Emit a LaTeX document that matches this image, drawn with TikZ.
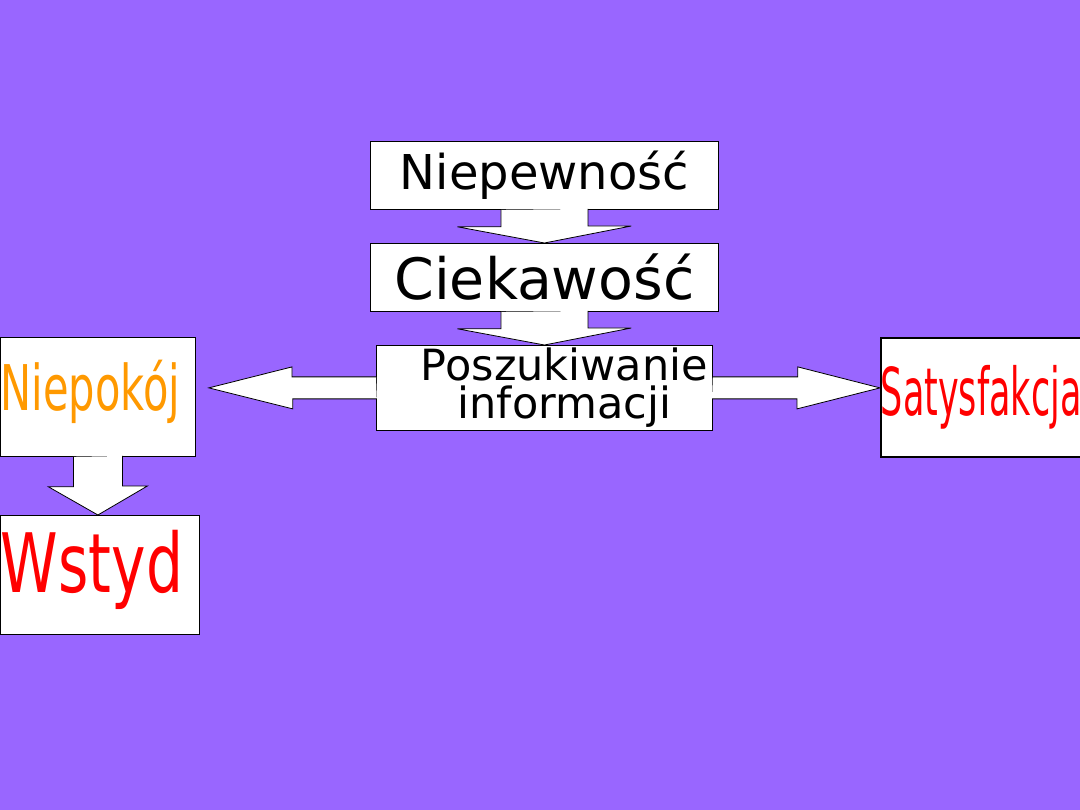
\documentclass[tikz,border=0pt]{standalone}
\usepackage{fontspec}
\setmainfont{DejaVu Sans}
\usetikzlibrary{calc}
\definecolor{slidebg}{RGB}{153,102,255}
\definecolor{wordorange}{RGB}{255,153,0}
\definecolor{wordred}{RGB}{255,0,0}

\begin{document}
\begin{tikzpicture}[x=1pt, y=-1pt,
        box/.style={rectangle, draw=black, line width=0.8pt, fill=white, inner sep=0pt, anchor=north west},
        blockarrow/.style={draw=black, line width=0.8pt, fill=white, line join=miter}
    ]
    \fill[slidebg] (0,0) rectangle (1080,810);
    \useasboundingbox (0,0) rectangle (1080,810);
    % boxes
    \node[box, minimum width=348, minimum height=68, font=\fontsize{48}{48}\selectfont] (niepewnosc) at (370,141) {Niepewność};
    \node[box, minimum width=348, minimum height=68, font=\fontsize{57}{57}\selectfont] (ciekawosc) at (370,243) {Ciekawość};
    \node[box, minimum width=336, minimum height=85, align=center, font=\fontsize{43}{38}\selectfont] (szukanie) at (376,345) {\hspace*{40pt}Poszukiwanie\\\hspace*{40pt}informacji};
    \node[box, minimum width=195, minimum height=119, text=wordorange, text height=40pt, text depth=13pt, font=\fontsize{63}{63}\selectfont] (niepokoj) at (0,337) {\scalebox{0.66}[1]{Niepokój}\hspace*{15pt}};
    \node[box, minimum width=199, minimum height=119, text=wordred, text height=52pt, text depth=17pt, font=\fontsize{82}{82}\selectfont] (wstyd) at (0,515) {\scalebox{0.71}[1]{Wstyd}\hspace*{16pt}};
    \node[box, minimum width=200, minimum height=119, line width=1.6pt, text=wordred, font=\fontsize{66}{66}\selectfont] (satysfakcja) at (880,337) {\scalebox{0.53}[1]{Satysfakcja}};
    % block arrows down
    \draw[blockarrow] ($(niepewnosc.south)+(-43.5,0)$) -- ++(0,17) -- ++(-43.5,0) -- (niepewnosc.south |- ciekawosc.north) -- ++(87,-17) -- ++(-43.5,0) -- ++(0,-17);
    \draw[blockarrow] ($(ciekawosc.south)+(-43.5,0)$) -- ++(0,17) -- ++(-43.5,0) -- (ciekawosc.south |- szukanie.north) -- ++(87,-17) -- ++(-43.5,0) -- ++(0,-17);
    \draw[blockarrow] ($(niepokoj.south)+(-24.5,0)$) -- ++(0,30) -- ++(-25,0) -- (niepokoj.south |- wstyd.north) -- ++(49.5,-29) -- ++(-25,0) -- ++(0,-30);
    % block arrows sideways
    \coordinate (tipL) at ($(niepokoj.east |- szukanie.west)+(13,0)$);
    \coordinate (tipR) at (satysfakcja.west |- szukanie.east);
    \draw[blockarrow] ($(szukanie.west)+(0,-11)$) -- ++(-84,0) -- ++(0,-10) -- (tipL) -- ++(84,21) -- ++(0,-10) -- ++(84,0);
    \draw[blockarrow] ($(szukanie.east)+(0,-11)$) -- ++(85,0) -- ++(0,-10) -- (tipR) -- ++(-83,21) -- ++(0,-10) -- ++(-85,0);
\end{tikzpicture}
\end{document}
